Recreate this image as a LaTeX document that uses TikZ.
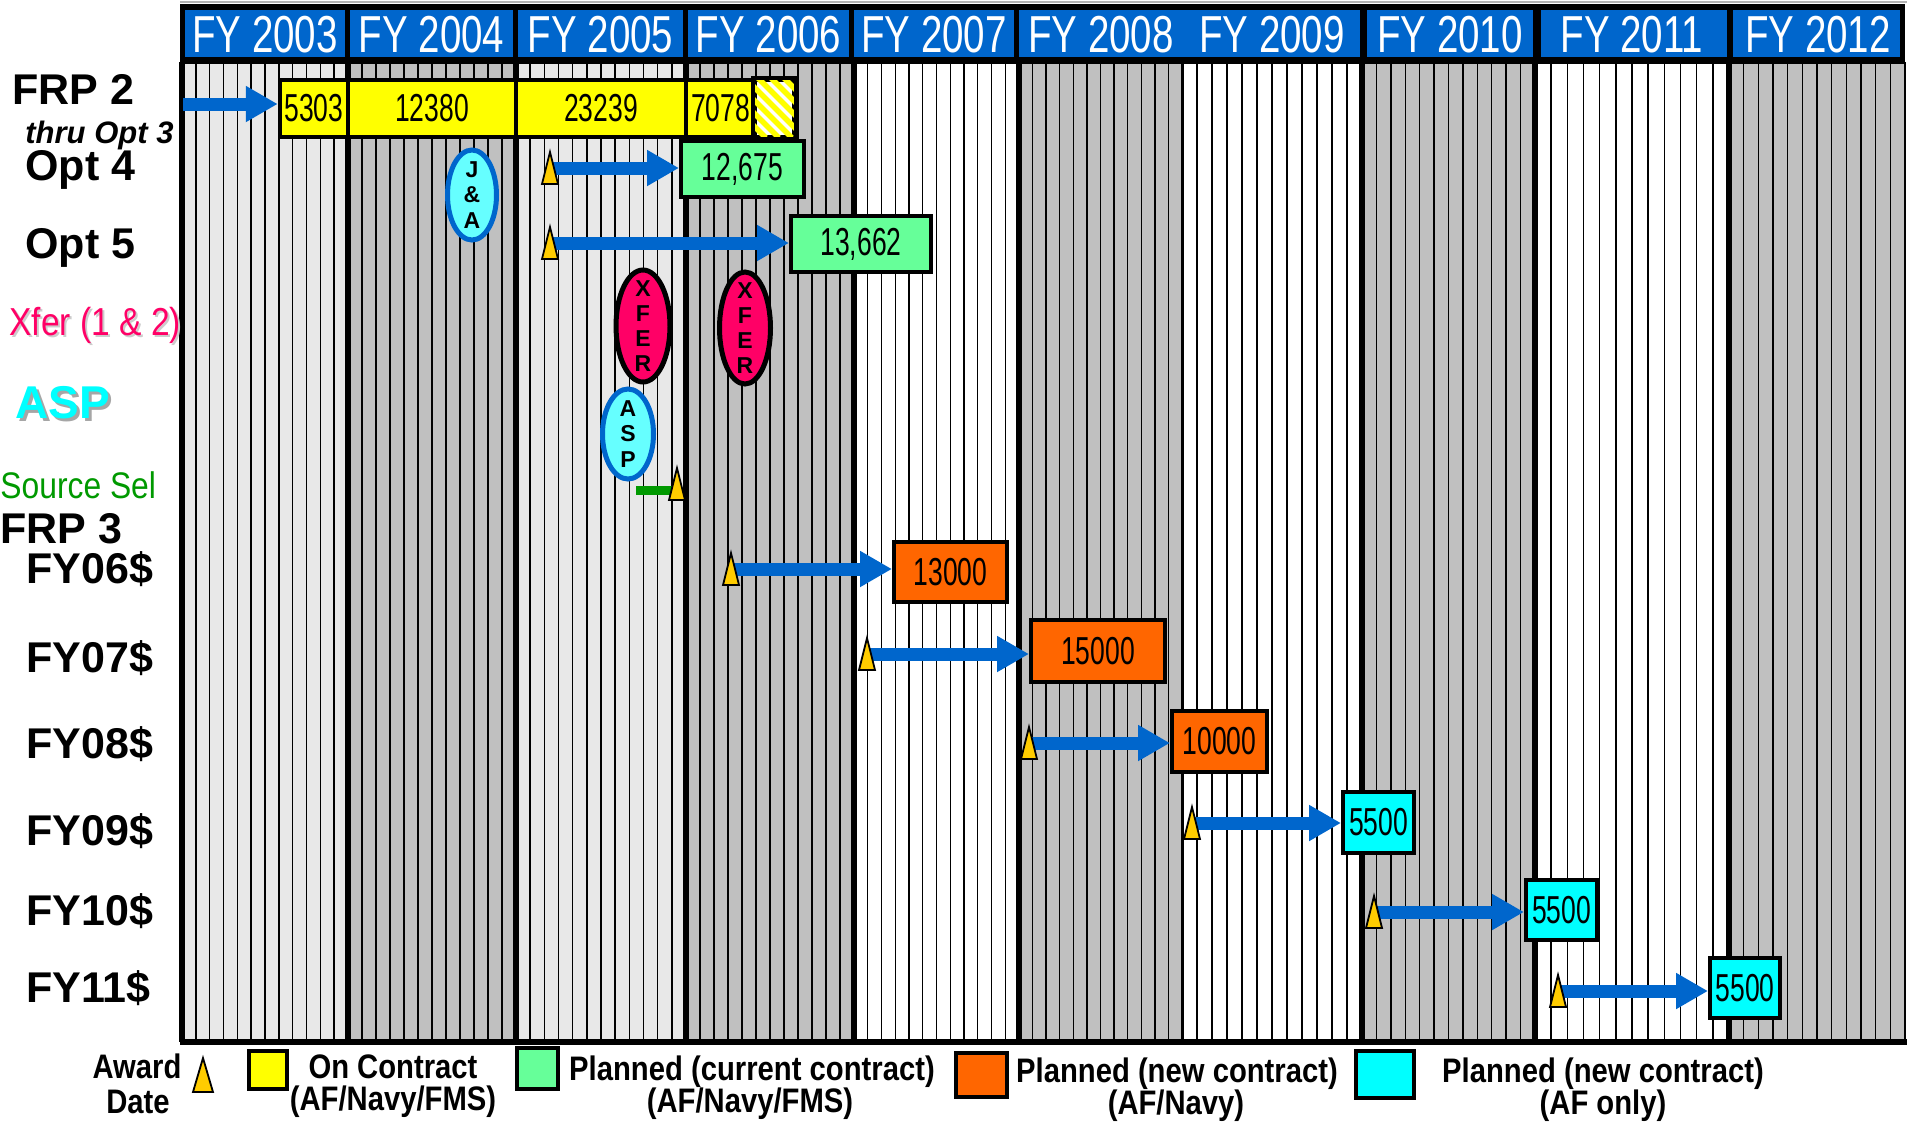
\documentclass[tikz,border=0pt]{standalone}
\usepackage{fontspec}
\setmainfont{Liberation Sans}
\newfontfamily\condfont[FakeStretch=0.74]{Liberation Sans}
\newfontfamily\numfont[FakeStretch=0.68]{Liberation Sans}
\newfontfamily\narrowfont[FakeStretch=0.86]{Liberation Sans}
\usetikzlibrary{arrows.meta,shapes.geometric,calc}
\definecolor{hdrblue}{HTML}{0066CC}
\definecolor{arrblue}{HTML}{0066CC}
\definecolor{lgt}{HTML}{E8E8E8}
\definecolor{drk}{HTML}{C0C0C0}
\definecolor{wht}{HTML}{FFFFFF}
\definecolor{yel}{HTML}{FFFF00}
\definecolor{grn}{HTML}{66FF99}
\definecolor{org}{HTML}{FF6600}
\definecolor{cyn}{HTML}{00FFFF}
\definecolor{ecyn}{HTML}{66FFFF}
\definecolor{gold}{HTML}{FFCC00}
\definecolor{xfercol}{HTML}{FF0066}
\definecolor{ssgreen}{HTML}{009900}
\newcommand\awtri[1]{\filldraw[tri] ($(#1)+(-8,16)$) -- ($(#1)+(8,16)$) -- ($(#1)+(0,-16)$) -- cycle;}
\tikzset{
  lbl/.style={anchor=base west, inner sep=0pt, font=\bfseries\fontsize{21.5}{24}\selectfont},
  hdrtxt/.style={inner sep=0pt, text=white, font=\condfont\fontsize{26}{28}\selectfont},
  numbox/.style={draw=black, line width=2pt, inner sep=0pt, font=\numfont\fontsize{19.5}{22}\selectfont},
  ybox/.style={numbox, line width=2.25pt, fill=yel, minimum height=28.5pt},
  gbox/.style={numbox, fill=grn},
  obox/.style={numbox, fill=org},
  cbox/.style={numbox, fill=cyn},
  barrow/.style={draw=arrblue, line width=6.5pt, -{Triangle[length=16pt,width=17pt]}},
  tri/.style={fill=gold, draw=black, line width=0.9pt, line join=miter},
  thinl/.style={draw=black, line width=0.7pt},
  ovalbox/.style={ellipse, inner sep=0pt, line width=2pt},
  lettr/.style={inner sep=0pt, align=center, font=\bfseries\fontsize{11.5}{12.6}\selectfont},
  legtxt/.style={anchor=base, inner sep=0pt, font=\narrowfont\bfseries\fontsize{17}{20}\selectfont},
  legsq/.style={draw=black, line width=2.25pt, inner sep=0pt}
}
\begin{document}
\begin{tikzpicture}[x=0.5pt,y=-0.5pt]
\useasboundingbox (0,0) rectangle (1907,1121);
% grid backgrounds
\foreach \a/\b/\c in {182/348/lgt,348/516/drk,516/686/lgt,686/854/drk,854/1019/wht,1019/1182/drk,1182/1362/wht,1362/1535/drk,1535/1729/wht,1729/1905/drk}{
  \fill[\c] (\a,64) rectangle (\b,1041);
  \foreach \i in {1,...,11}{
    \draw[thinl] ({\a+(\b-\a)*\i/12},64) -- ({\a+(\b-\a)*\i/12},1041);
  }
}
\foreach \x in {182,348,516,686,854,1019,1362,1535,1729}{
  \draw[line width=3pt] (\x,62) -- (\x,1042);
}
\draw[line width=1.5pt] (1182,62) -- (1182,1042);
\draw[line width=1pt] (1905,62) -- (1905,1042);
\draw[line width=3pt] (180,1042) -- (1907,1042);
% header
\draw[gray!60, line width=0.8pt] (180,2) -- (1907,2);
\fill[black] (180,4) rectangle (1905,64);
\foreach \a/\b in {185/345,350/513,518/683,688/849,854/1014,1019/1360,1367/1533,1541/1727,1733/1900}{
  \fill[hdrblue] (\a,10) rectangle (\b,57);
}
\node[hdrtxt] (h03) at (265,35) {FY 2003};
\node[hdrtxt] (h04) at (431.5,35) {FY 2004};
\node[hdrtxt] (h05) at (600.5,35) {FY 2005};
\node[hdrtxt] (h06) at (768.5,35) {FY 2006};
\node[hdrtxt] (h07) at (934,35) {FY 2007};
\node[hdrtxt] (h08) at (1101,35) {FY 2008};
\node[hdrtxt] (h09) at (1272,35) {FY 2009};
\node[hdrtxt] (h10) at (1450,35) {FY 2010};
\node[hdrtxt] (h11) at (1632,35) {FY 2011};
\node[hdrtxt] (h12) at (1818,35) {FY 2012};
% left labels
\node[lbl] (frp2) at (12,104) {FRP 2};
\node[lbl, font=\bfseries\itshape\fontsize{15.5}{18}\selectfont] (thru) at (25,143) {thru Opt 3};
\node[lbl] (opt4) at (25,180) {Opt 4};
\node[lbl] (opt5) at (25,258) {Opt 5};
\node[anchor=base west, inner sep=0pt, text=gray!40, font=\narrowfont\fontsize{19.5}{22}\selectfont] (xfersh) at (11,337) {Xfer (1 \& 2)};
\node[anchor=base west, inner sep=0pt, text=xfercol, font=\narrowfont\fontsize{19.5}{22}\selectfont] (xferlbl) at (9,335) {Xfer (1 \& 2)};
\node[anchor=base west, inner sep=0pt, text=gray!70, font=\bfseries\fontsize{23}{26}\selectfont] (aspsh) at (18,421) {ASP};
\node[anchor=base west, inner sep=0pt, text=cyn, font=\bfseries\fontsize{23}{26}\selectfont] (asplbl) at (15,418) {ASP};
\node[anchor=base west, inner sep=0pt, text=ssgreen, font=\narrowfont\fontsize{18.5}{22}\selectfont] (sslbl) at (0,498) {Source Sel};
\node[lbl] (frp3) at (0,543) {FRP 3};
\node[lbl] (fy06) at (26,583) {FY06\$};
\node[lbl] (fy07) at (26,672) {FY07\$};
\node[lbl] (fy08) at (26,758) {FY08\$};
\node[lbl] (fy09) at (26,845) {FY09\$};
\node[lbl] (fy10) at (26,925) {FY10\$};
\node[lbl] (fy11) at (26,1002) {FY11\$};
% FRP 2 bars
\node[ybox, minimum width=34pt] (y5303) at (314,108.5) {5303};
\node[ybox, minimum width=84pt] (y12380) at (432,108.5) {12380};
\node[ybox, minimum width=85pt] (y23239) at (601,108.5) {23239};
\node[ybox, minimum width=34.5pt] (y7078) at (720.5,108.5) {7078};
\node[ybox, fill=white, minimum width=19.5pt] (hatch) at (774.5,108.5) {};
\begin{scope}
  \clip (hatch.south west) rectangle (hatch.north east);
  \foreach \k in {0,...,9}{
    \draw[yel, line width=2.8pt] ($(hatch.north west)+(\k*13-60,0)$) -- ++(60,60);
  }
\end{scope}
\draw[line width=2.25pt] (hatch.south west) rectangle (hatch.north east);
% planned boxes
\node[gbox, minimum width=61.5pt, minimum height=28pt] (g12675) at (742.5,169) {12,675};
\node[gbox, minimum width=70pt, minimum height=28pt] (g13662) at (861,244) {13,662};
\node[obox, minimum width=56.5pt, minimum height=30pt] (o13000) at (950.5,572) {13000};
\node[obox, minimum width=67pt, minimum height=31pt] (o15000) at (1098,651) {15000};
\node[obox, minimum width=47.5pt, minimum height=30.5pt] (o10000) at (1219.5,741.5) {10000};
\node[cbox, minimum width=35.5pt, minimum height=30.5pt] (c5500a) at (1378.5,822.5) {5500};
\node[cbox, minimum width=35.5pt, minimum height=30pt] (c5500b) at (1561.5,910) {5500};
\node[cbox, minimum width=35pt, minimum height=30pt] (c5500c) at (1745,988) {5500};
% ellipses
\node[ovalbox, draw=arrblue, line width=2.5pt, fill=ecyn, minimum width=24.5pt, minimum height=45pt] (ja) at (472,195) {};
\node[lettr] (jat) at (ja) {J\\\&\\A};
\node[ovalbox, draw=black, line width=2.5pt, fill=xfercol, minimum width=27pt, minimum height=56pt] (xfer1) at (643,326) {};
\node[lettr] (xfer1t) at (xfer1) {X\\F\\E\\R};
\node[ovalbox, draw=black, line width=2.5pt, fill=xfercol, minimum width=25.5pt, minimum height=56pt] (xfer2) at (745,328) {};
\node[lettr] (xfer2t) at (xfer2) {X\\F\\E\\R};
\node[ovalbox, draw=arrblue, line width=2.5pt, fill=ecyn, minimum width=25.5pt, minimum height=45pt] (asp) at (628,434) {};
\node[lettr] (aspt) at (asp) {A\\S\\P};
% award date coordinates
\coordinate (frpstart) at (183,104);
\coordinate (t4) at (550,168);
\coordinate (t5) at (550,243);
\coordinate (tss) at (677,484);
\coordinate (ssbar) at (636,490);
\coordinate (t06) at (731,569);
\coordinate (t07) at (867,654);
\coordinate (t08) at (1029,743);
\coordinate (t09) at (1192,823);
\coordinate (t10) at (1374,912);
\coordinate (t11) at (1558,991);
% arrows
\draw[barrow] (frpstart) -- (frpstart -| y5303.west);
\draw[barrow] (t4) -- (t4 -| g12675.west);
\draw[barrow] (t5) -- (t5 -| g13662.west);
\draw[barrow] (t06) -- (t06 -| o13000.west);
\draw[barrow] (t07) -- (t07 -| o15000.west);
\draw[barrow] (t08) -- (t08 -| o10000.west);
\draw[barrow] (t09) -- (t09 -| c5500a.west);
\draw[barrow] (t10) -- (t10 -| c5500b.west);
\draw[barrow] (t11) -- (t11 -| c5500c.west);
\draw[ssgreen, line width=4.5pt] (ssbar) -- (ssbar -| tss);
% triangles
\awtri{t4}\awtri{t5}\awtri{tss}\awtri{t06}\awtri{t07}\awtri{t08}\awtri{t09}\awtri{t10}\awtri{t11}
% legend
\node[legtxt] (award) at (137,1078) {Award};
\node[legtxt] (date) at (138,1113) {Date};
\coordinate (legtri) at (203,1075);
\filldraw[tri] ($(legtri)+(-10,17)$) -- ($(legtri)+(10,17)$) -- ($(legtri)+(0,-17)$) -- cycle;
\node[legsq, fill=yel, minimum width=19pt, minimum height=19pt] (lgy) at (268,1070) {};
\node[legtxt] (lgy1) at (393,1078) {On Contract};
\node[legtxt] (lgy2) at (393,1110) {(AF/Navy/FMS)};
\node[legsq, fill=grn, minimum width=20.5pt, minimum height=20.5pt] (lgg) at (537.5,1068.5) {};
\node[legtxt] (lgg1) at (752,1080) {Planned (current contract)};
\node[legtxt] (lgg2) at (750,1112) {(AF/Navy/FMS)};
\node[legsq, fill=org, minimum width=25.5pt, minimum height=22pt] (lgo) at (981.5,1075) {};
\node[legtxt] (lgo1) at (1177,1082) {Planned (new contract)};
\node[legtxt] (lgo2) at (1176,1114) {(AF/Navy)};
\node[legsq, fill=cyn, minimum width=29pt, minimum height=23.5pt] (lgc) at (1385,1074.5) {};
\node[legtxt] (lgc1) at (1603,1082) {Planned (new contract)};
\node[legtxt] (lgc2) at (1603,1114) {(AF only)};
\end{tikzpicture}
\end{document}
